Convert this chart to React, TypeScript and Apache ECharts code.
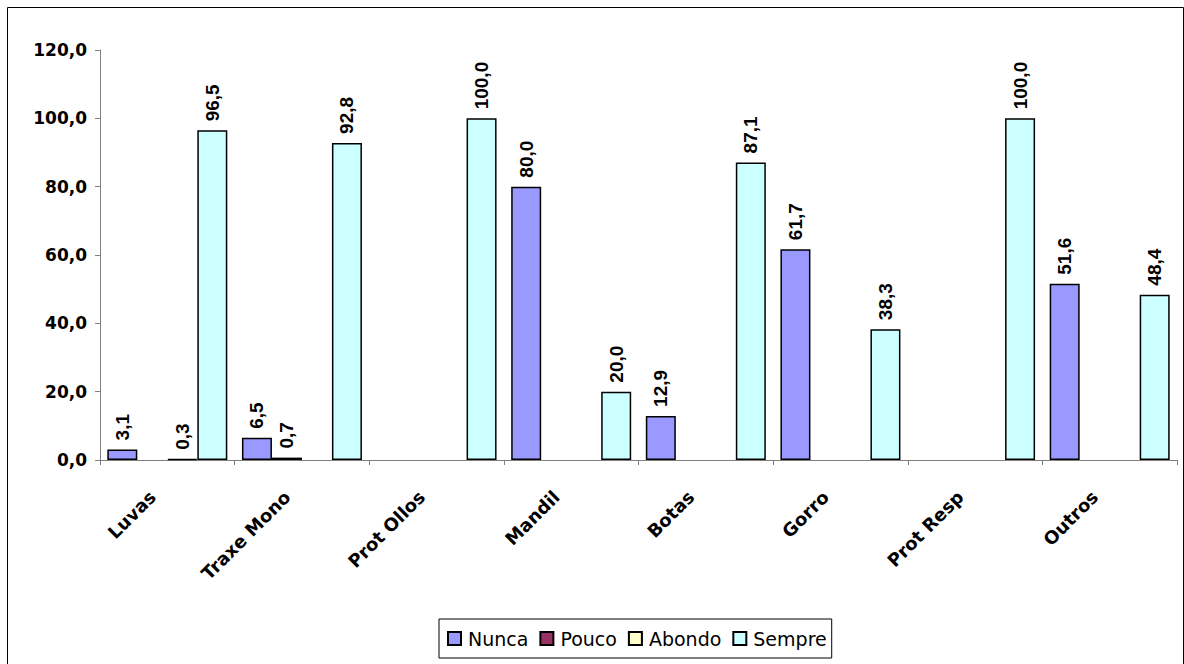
import React, { useEffect, useRef } from "react";
import * as echarts from "echarts";

const categories = ["Luvas", "Traxe Mono", "Prot Ollos", "Mandil", "Botas", "Gorro", "Prot Resp", "Outros"];
const seriesNames = ["Nunca", "Pouco", "Abondo", "Sempre"];
const nunca = [3.1, 6.5, null, 80.0, 12.9, 61.7, null, 51.6];
const pouco = [null, 0.7, null, null, null, null, null, null];
const abondo = [0.3, null, null, null, null, null, null, null];
const sempre = [96.5, 92.8, 100.0, 20.0, 87.1, 38.3, 100.0, 48.4];
const colors = ["#9999FF", "#993366", "#FFFFCC", "#CCFFFF"];

const fmt = (v: number) => v.toFixed(1).replace(".", ",");

export default function App() {
  const ref = useRef<HTMLDivElement>(null);
  useEffect(() => {
    if (!ref.current) return;
    const chart = echarts.init(ref.current, null, { renderer: "svg" });
    const data = [nunca, pouco, abondo, sempre];
    chart.setOption({
      animation: false,
      backgroundColor: "#ffffff",
      grid: { left: 100, right: 7, top: 50, bottom: 204, containLabel: false },
      graphic: [
        {
          type: "rect",
          shape: { x: 7.5, y: 7.5, width: 1176, height: 662 },
          style: { fill: "none", stroke: "#000", lineWidth: 1 },
          silent: true,
          z: -10,
        },
      ],
      legend: {
        data: seriesNames,
        left: 439,
        top: 619,
        orient: "horizontal",
        backgroundColor: "#fff",
        borderColor: "#000",
        borderWidth: 1,
        padding: [10, 5, 10, 8],
        itemGap: 11,
        itemWidth: 13,
        itemHeight: 13,
        icon: "rect",
        textStyle: {
          fontFamily: "DejaVu Sans",
          fontSize: 19,
          color: "#000",
          padding: [0, 0, 0, 2],
        },
      },
      xAxis: {
        type: "category",
        data: categories,
        axisLine: { lineStyle: { color: "#808080", width: 1 } },
        axisTick: { show: true, alignWithLabel: false, length: 5, lineStyle: { color: "#808080" } },
        axisLabel: {
          rotate: 45,
          margin: 19,
          interval: 0,
          fontFamily: "DejaVu Sans",
          fontWeight: "bold",
          fontSize: 18,
          color: "#000",
          padding: [0, 21, 0, 0],
        },
        splitLine: { show: false },
      },
      yAxis: {
        type: "value",
        min: 0,
        max: 120,
        interval: 20,
        axisLine: { show: true, lineStyle: { color: "#808080", width: 1 } },
        axisTick: { show: true, length: 5, lineStyle: { color: "#808080" } },
        axisLabel: {
          margin: 13,
          fontFamily: "DejaVu Sans",
          fontWeight: "bold",
          fontSize: 17,
          color: "#000",
          formatter: (v: number) => fmt(v),
        },
        splitLine: { show: false },
      },
      series: seriesNames.map((name, i) => ({
        name,
        type: "bar",
        data: data[i],
        barWidth: 30,
        barGap: "0%",
        itemStyle: { color: colors[i], borderColor: "#000", borderWidth: 1.5 },
        label: {
          show: true,
          position: "top",
          rotate: 90,
          align: "left",
          verticalAlign: "middle",
          distance: 9,
          fontFamily: "Liberation Sans",
          fontWeight: "bold",
          fontSize: 19,
          color: "#000",
          formatter: (p: any) => (p.value == null ? "" : fmt(p.value)),
        },
      })),
    });
    return () => chart.dispose();
  }, []);
  return (
    <div
      ref={ref}
      style={{ position: "fixed", left: 0, top: 0, width: 1184, height: 664 }}
    />
  );
}
